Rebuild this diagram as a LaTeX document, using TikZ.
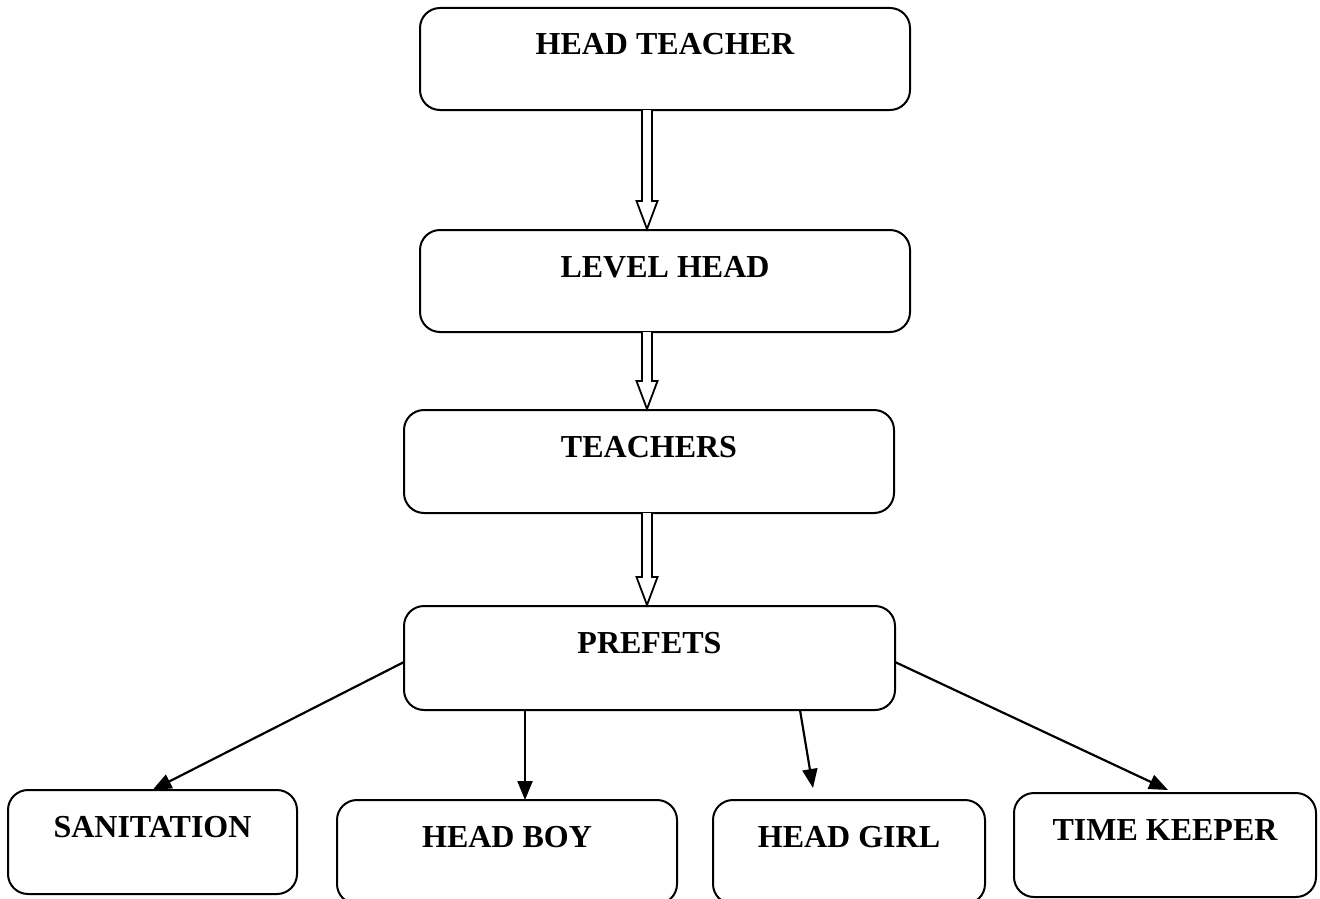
\documentclass[tikz,border=0pt]{standalone}
\usepackage{fontspec}
\setmainfont{Liberation Serif}
\usetikzlibrary{calc,arrows.meta}
\tikzset{
  orgbox/.style={draw, line width=2pt, rounded corners=20pt, anchor=north west,
    inner xsep=0pt, inner ysep=0pt, outer sep=0pt, text height=47pt,
    font=\fontsize{32}{38}\selectfont\bfseries},
  hol/.style={draw, fill=white, line width=1.8pt, line join=miter},
  conn/.style={line width=2.2pt, -{Triangle[length=19pt,width=15pt]}}
}
\begin{document}
\begin{tikzpicture}[x=1pt,y=-1pt]
\useasboundingbox (0,0) rectangle (1320,899);
\clip (0,0) rectangle (1320,899);
\node[orgbox, minimum width=490pt, text depth=55pt] (ht) at (420,8) {HEAD TEACHER};
\node[orgbox, minimum width=490pt, text depth=55pt] (lh) at (420,230) {LEVEL HEAD};
\node[orgbox, minimum width=490pt, text depth=56pt] (te) at (404,410) {TEACHERS};
\node[orgbox, minimum width=491pt, text depth=57pt] (pr) at (404,606) {PREFETS};
\node[orgbox, minimum width=289pt, text depth=57pt] (sa) at (8,790) {SANITATION};
\node[orgbox, minimum width=340pt, text depth=57pt] (hb) at (337,800) {HEAD BOY};
\node[orgbox, minimum width=272pt, text depth=57pt] (hg) at (713,800) {HEAD GIRL};
\node[orgbox, minimum width=302pt, text depth=57pt] (tk) at (1014,793) {TIME KEEPER};
% hollow arrows
\foreach \a/\b in {ht/lh, lh/te, te/pr}{
  \path (\a.south -| 647,0) coordinate (s) (\b.north -| 647,0) coordinate (e);
  \draw[hol] ($(s)+(-5,0)$) -- ($(e)+(-5,-29)$) -- ($(e)+(-10.5,-29)$) -- ($(e)+(0,-1)$)
    -- ($(e)+(10.5,-29)$) -- ($(e)+(5,-29)$) -- ($(s)+(5,0)$);
}
% connectors
\draw[conn] ($(pr.west)+(0,4)$) -- (sa.north);
\draw[conn] (pr.south -| 525,0) -- (hb.north -| 525,0);
\draw[conn] (pr.south -| 800,0) -- ($(hg.north)+(-36,-12)$);
\draw[conn] ($(pr.east)+(0,4)$) -- ($(tk.north)+(3,-3)$);
\end{tikzpicture}
\end{document}
